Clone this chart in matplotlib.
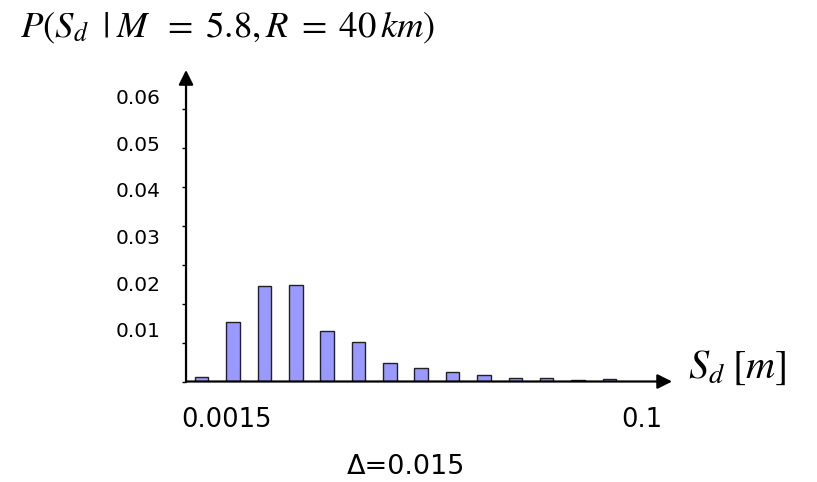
import matplotlib
matplotlib.use('Agg')
import matplotlib.pyplot as plt
import matplotlib.transforms as mtransforms

# bar heights, one per S_d bin
probs = [0.0011, 0.0153, 0.0245, 0.0247, 0.0129, 0.0101, 0.0047,
         0.0035, 0.0024, 0.0017, 0.0008, 0.0008, 0.0004, 0.0006]
ytick_vals = [0.0, 0.01, 0.02, 0.03, 0.04, 0.05, 0.06, 0.07]
ylabel_vals = [0.01, 0.02, 0.03, 0.04, 0.05, 0.06]
ylabel_text = ['0.01', '0.02', '0.03', '0.04', '0.05', '0.06']
xlabel_text = ['0.0015', '0.1']

plt.rcParams['mathtext.fontset'] = 'stix'

fig = plt.figure(figsize=(8.17, 4.82), dpi=100)
ax = fig.add_axes([0.2277, 0.2085, 0.5949, 0.6463])

xs = list(range(len(probs)))
ax.bar(xs, probs, width=0.43, color='#9999ff', edgecolor='#222222', linewidth=1.0, zorder=2)

ax.set_xlim(-0.5, 15.0)
ax.set_ylim(0, 0.08)
for s in ax.spines.values():
    s.set_visible(False)

ax.set_xticks([])
ax.set_yticks(ytick_vals)
ax.set_yticklabels([])
ax.tick_params(axis='y', length=3, width=1, direction='out', color='black')

# axis arrows
arrow = dict(arrowstyle='-|>', color='black', lw=1.6, mutation_scale=22,
             shrinkA=0, shrinkB=0)
ax.annotate('', xy=(0, 1), xytext=(0, 0), xycoords='axes fraction', arrowprops=arrow, zorder=3)
ax.annotate('', xy=(1, 0), xytext=(0, 0), xycoords='axes fraction', arrowprops=arrow, zorder=3)

# the value labels sit a bit off the tick marks in the original
ax2 = ax.twinx()
for s in ax2.spines.values():
    s.set_visible(False)
ax2.yaxis.tick_left()
ax2.set_ylim(-0.00103, 0.06567)
ax2.set_yticks(ylabel_vals)
ax2.set_yticklabels(ylabel_text, fontsize=14.5)
ax2.tick_params(axis='y', length=0, pad=18.5)

# range labels under the x axis
trans = mtransforms.blended_transform_factory(ax.transData, ax.transAxes)
for xpos, txt in zip([0.8, 14.03], xlabel_text):
    ax.text(xpos, -0.1236, txt, transform=trans, ha='center', va='center', fontsize=18.5)

fig.text(0.4975, 0.0311, '\u0394=0.015', ha='center', va='center', fontsize=19.5)

fig.text(20 / 817, 0.923, r'$P(S_{d}\;\;|\;M\;\;=\;5.8,R\;=\;40\,km)$',
         ha='left', va='baseline', fontsize=26.5)
fig.text(0.842, 0.2158, r'$S_{d}\;[m]$', ha='left', va='baseline', fontsize=29)

fig.savefig('out.png', dpi=100)
